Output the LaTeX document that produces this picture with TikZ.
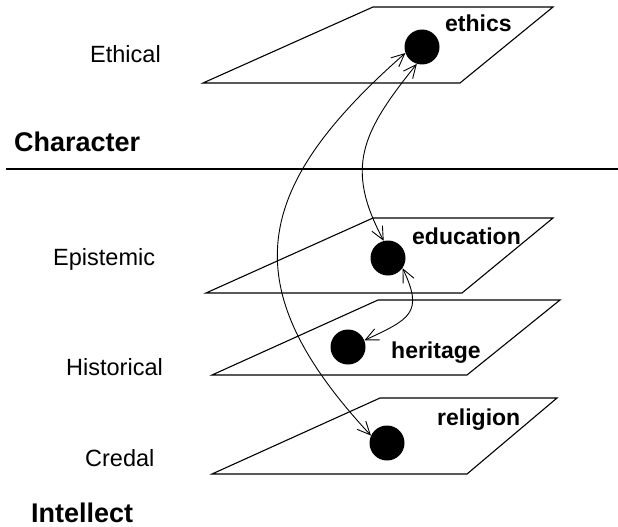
\documentclass[tikz,border=0pt]{standalone}
\usepackage{fontspec}
\setmainfont{Liberation Sans}
\usetikzlibrary{arrows.meta}
\begin{document}
\begin{tikzpicture}[x=1pt,y=-1pt,
  plane/.style={line width=1.1pt, line join=miter},
  dot/.style={circle, fill=black, draw=none, minimum size=35pt, inner sep=0pt},
  level/.style={anchor=base west, inner sep=0pt, font=\fontsize{23.5}{28}\selectfont},
  topic/.style={anchor=base west, inner sep=0pt, font=\fontsize{23}{28}\selectfont\bfseries},
  heading/.style={anchor=base west, inner sep=0pt, font=\fontsize{27}{31}\selectfont\bfseries},
  link/.style={line width=0.9pt, {Straight Barb[length=13pt,width=12pt]}-{Straight Barb[length=13pt,width=12pt]}}
]
\useasboundingbox (0,0) rectangle (618,527);

% planes
\draw[plane] (373,7) -- (553,7) -- (460,83) -- (203,83) -- cycle;
\draw[plane] (373,218) -- (553,218) -- (462,293) -- (206,293) -- cycle;
\draw[plane] (378,300) -- (560,300) -- (467,375) -- (212,375) -- cycle;
\draw[plane] (380,398) -- (557,398) -- (467,474) -- (212,474) -- cycle;

% separator between character and intellect
\draw[line width=1.1pt] (6,169) -- (618,169);

% level labels
\node[level] (lEth) at (90,63) {Ethical};
\node[level] (lEpi) at (53,265) {Epistemic};
\node[level] (lHis) at (66,375) {Historical};
\node[level] (lCre) at (85,466) {Credal};
\node[heading] (hChar) at (14,151) {Character};
\node[heading] (hInt) at (31,522) {Intellect};

% topics
\node[dot] (eth) at (422,47) {};
\node[dot] (edu) at (388,258) {};
\node[dot] (her) at (348,347) {};
\node[dot] (rel) at (387,443) {};
\node[topic] (tEth) at (445,32) {ethics};
\node[topic] (tEdu) at (412,244) {education};
\node[topic] (tHer) at (391,358) {heritage};
\node[topic] (tRel) at (437,425) {religion};

% relations
\draw[link] (eth.200) .. controls (252,188) and (232,286) .. (rel.155);
\draw[link] (eth.253) .. controls (361,133) and (345,168) .. (edu.104);
\draw[link] (edu.325) .. controls (424,313) and (410,319) .. (her.22);
\end{tikzpicture}
\end{document}
